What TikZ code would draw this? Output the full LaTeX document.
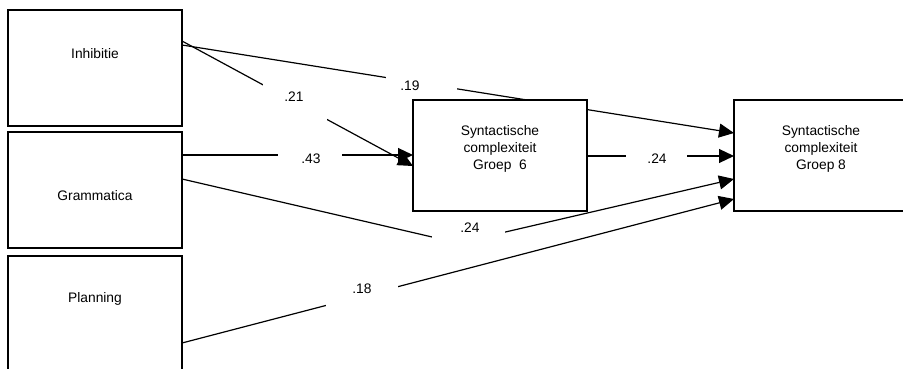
\documentclass[tikz,border=0pt]{standalone}
\usepackage{fontspec}
\setmainfont{Liberation Sans}
\usetikzlibrary{arrows.meta,calc}
\pgfdeclarelayer{bg}
\pgfsetlayers{bg,main}

\begin{document}
\begin{tikzpicture}[x=1pt,y=-1pt,line width=1.1pt,
  varbox/.style={draw,fill=white,line width=1.2pt,minimum width=174pt,minimum height=116pt,
                 anchor=north west,inner sep=0pt,outer sep=0pt},
  midbox/.style={varbox,minimum height=111pt},
  boxtext/.style={font=\fontsize{13.8}{17}\selectfont,align=center,inner sep=0pt},
  coef/.style={font=\fontsize{13.8}{17}\selectfont,inner sep=0pt},
  gapbox/.style={fill=white,inner sep=0pt,outer sep=0pt,anchor=north west},
  conn/.style={line width=1.2pt,-{Triangle[length=15pt,width=14pt]}}
]
\useasboundingbox (0,0) rectangle (903,369);
\clip (0,0) rectangle (903,369);

% variable boxes
\node[varbox] (inh)  at (8,10)   {};
\node[varbox] (gram) at (8,132)  {};
\node[varbox] (plan) at (8,256)  {};
\node[midbox] (mid)  at (413,100) {};
\node[midbox] (out)  at (734,100) {};

\node[boxtext] (tinh)  at (95,54)  {Inhibitie};
\node[boxtext] (tgram) at (95,196) {Grammatica};
\node[boxtext] (tplan) at (95,299) {Planning};
\node[boxtext] (tmid)  at (500,149) {Syntactische\\complexiteit\\Groep~ 6};
\node[boxtext] (tout)  at (821,149) {Syntactische\\complexiteit\\Groep 8};

\coordinate (bend) at (458,243);

\begin{pgfonlayer}{bg}
  % paths
  \draw[conn] (inh.east |- 0,41)  -- (mid.west |- 0,166);
  \draw[conn] (inh.east |- 0,45)  -- (out.west |- 0,133);
  \draw[conn] (gram.east |- 0,155) -- (mid.west |- 0,155);
  \draw[conn] (gram.east |- 0,179) -- (bend) -- (out.west |- 0,179);
  \draw[conn] (plan.east |- 0,343) -- (out.west |- 0,199);
  \draw[conn] (mid.east |- 0,156) -- (out.west |- 0,156);
  % white breaks behind the coefficients
  \node[gapbox,minimum width=64pt,minimum height=43pt] (g21)  at (263,78)  {};
  \node[gapbox,minimum width=64pt,minimum height=28pt] (g43)  at (278,142) {};
  \node[gapbox,minimum width=71pt,minimum height=26pt] (g19)  at (386,70)  {};
  \node[gapbox,minimum width=61pt,minimum height=28pt] (g24m) at (626,143) {};
  \node[gapbox,minimum width=73pt,minimum height=35pt] (g24g) at (432,215) {};
  \node[gapbox,minimum width=72pt,minimum height=32pt] (g18)  at (326,280) {};
\end{pgfonlayer}

% path coefficients
\node[coef] (c21)  at (294,97)  {.21};
\node[coef] (c43)  at (311,159) {.43};
\node[coef] (c19)  at (410,86)  {.19};
\node[coef] (c24m) at (657,159) {.24};
\node[coef] (c24g) at (470,228) {.24};
\node[coef] (c18)  at (362,289) {.18};
\end{tikzpicture}
\end{document}
